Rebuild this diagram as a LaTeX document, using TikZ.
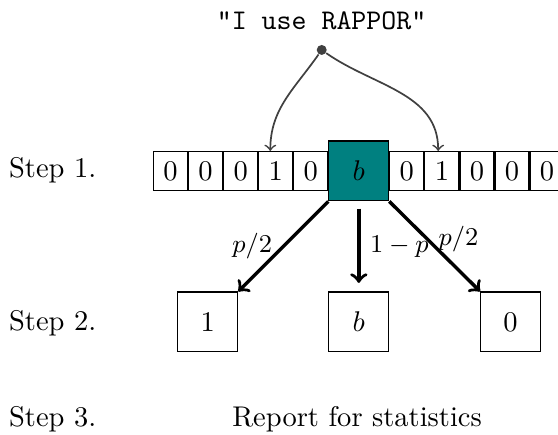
\documentclass[tikz,border=0pt]{standalone}
\usetikzlibrary{positioning}
\begin{document}
\begin{tikzpicture}[
    bitcell/.style={rectangle, draw, minimum width=11.9pt, minimum height=13.6pt, inner sep=0pt},
    bigcell/.style={rectangle, draw, minimum size=21pt, inner sep=0pt},
    steplabel/.style={anchor=base west, inner sep=0pt},
    hasharrow/.style={->, semithick, black!75},
    randarrow/.style={->, very thick}
  ]
    \useasboundingbox (0,0) rectangle (6.881,5.364);

      \node[steplabel] at (0.105, 3.173)  (s1)    {Step 1.};
      \node[steplabel] at (0.105, 1.283)  (s2)    {Step 2.};
      \node[steplabel] at (0.105, 0.099)  (s3)    {Step 3.};

      \node[anchor=base, inner sep=0pt] at (3.965, 5.003)  (word)    {\texttt{"I use RAPPOR"}};
      \node[circle, fill=black!75, minimum size=3.5pt, inner sep=0pt] at (3.967, 4.748)  (hash)    {};

      \node[bitcell, anchor=west] at (1.887, 3.256)  (l1)    {0};
      \node[bitcell, right=0pt of l1]  (l2)    {0};
      \node[bitcell, right=0pt of l2]  (l3)    {0};
      \node[bitcell, right=0pt of l3]  (l4)    {1};
      \node[bitcell, right=0pt of l4]  (l5)    {0};
      \node[bigcell, fill=teal, right=0pt of l5]  (b)    {$b$};
      \node[bitcell, right=0pt of b]   (r1)    {0};
      \node[bitcell, right=0pt of r1]  (r2)    {1};
      \node[bitcell, right=0pt of r2]  (r3)    {0};
      \node[bitcell, right=0pt of r3]  (r4)    {0};
      \node[bitcell, right=0pt of r4]  (r5)    {0};

      \node[bigcell, below=1.11cm of b]     (keep)    {$b$};
      \node[bigcell, left=1.11cm of keep]   (one)     {1};
      \node[bigcell, right=1.12cm of keep]  (zero)    {0};

      \node[anchor=base] at (4.403, 0.099)  (report)    {Report for statistics};

      \draw[hasharrow]  (hash) to[out=-125, in=90] ([xshift=-1.9pt]l4.north);
      \draw[hasharrow]  (hash) to[out=-35, in=90] ([xshift=-1.3pt]r2.north);

      \draw[randarrow]  (b.south west) -- node[left, font=\small] {$p/2$} (one.north east);
      \draw[randarrow, shorten <=2.5pt, shorten >=3pt]  (b) -- node[right, font=\small] {$1-p$} (keep);
      \draw[randarrow]  (b.south east) -- node[pos=0.42, right, font=\small] {$p/2$} (zero.north west);
    \end{tikzpicture}
\end{document}
